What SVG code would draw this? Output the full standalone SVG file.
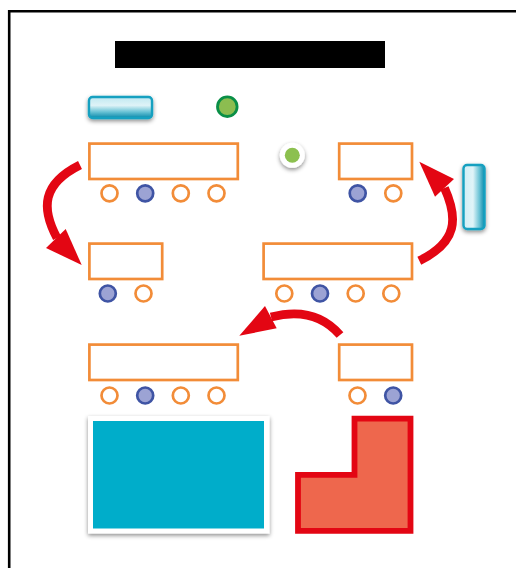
<svg xmlns="http://www.w3.org/2000/svg" width="516" height="568" viewBox="0 0 516 568">
<style>
.seat{fill:none;stroke:#f28c38;stroke-width:2.7}
.box{fill:#fff;stroke:#f28c38;stroke-width:2.7}
.taken{fill:#9ca3d4;stroke:#3f54a4;stroke-width:2.7}
.arc{fill:none;stroke:#e30613;stroke-width:8.8}
.head{fill:#e30613}
</style>
<defs>
<linearGradient id="gh" x1="0" y1="0" x2="0" y2="1"><stop offset="0" stop-color="#bfe8f1"/><stop offset=".4" stop-color="#dff3f7"/><stop offset=".7" stop-color="#6cc4d6"/><stop offset="1" stop-color="#0b89aa"/></linearGradient>
<linearGradient id="gv" x1="0" y1="0" x2="1" y2="0"><stop offset="0" stop-color="#cfeef5"/><stop offset=".45" stop-color="#e0f4f8"/><stop offset=".75" stop-color="#6cc4d6"/><stop offset="1" stop-color="#0b89aa"/></linearGradient>
<filter id="sh" x="-30%" y="-30%" width="160%" height="170%"><feDropShadow dx="0" dy="2" stdDeviation="2" flood-color="#000" flood-opacity=".45"/></filter>
</defs>
<rect width="516" height="568" fill="#fff"/>
<path id="frame" d="M9.2 568V11.2H516" fill="none" stroke="#000" stroke-width="2.6"/>
<rect id="title" x="115" y="41" width="270" height="27" fill="#000"/>
<g id="button-h"><rect x="89" y="97" width="63" height="21" rx="3.5" fill="url(#gh)" stroke="#14a0c0" stroke-width="2.4" filter="url(#sh)"/></g>
<g id="button-v"><rect x="463.5" y="165" width="21" height="64" rx="3.5" fill="url(#gv)" stroke="#14a0c0" stroke-width="2.4" filter="url(#sh)"/></g>
<g id="dot-green"><circle cx="227.3" cy="106.7" r="9.8" fill="#8cbd50" stroke="#0a8f47" stroke-width="2.8"/></g>
<g id="dot-white"><circle cx="292.3" cy="155.3" r="12.5" fill="#fff" filter="url(#sh)"/><circle cx="292.3" cy="155.3" r="7.5" fill="#8cc04f"/></g>
<g id="table-1"><rect class="box" x="89.4" y="143.6" width="148.4" height="35.4"/><circle class="seat" cx="109.5" cy="193.3" r="8"/><circle class="taken" cx="145.2" cy="193.3" r="8"/><circle class="seat" cx="180.8" cy="193.3" r="8"/><circle class="seat" cx="216.5" cy="193.3" r="8"/></g>
<g id="table-2"><rect class="box" x="339.2" y="143.6" width="72.8" height="35.4"/><circle class="taken" cx="357.7" cy="193.3" r="8"/><circle class="seat" cx="393.3" cy="193.3" r="8"/></g>
<g id="table-3"><rect class="box" x="89.4" y="243.6" width="72.8" height="35.4"/><circle class="taken" cx="107.8" cy="293.5" r="8"/><circle class="seat" cx="143.5" cy="293.5" r="8"/></g>
<g id="table-4"><rect class="box" x="263.6" y="243.6" width="148.4" height="35.4"/><circle class="seat" cx="284.3" cy="293.5" r="8"/><circle class="taken" cx="320" cy="293.5" r="8"/><circle class="seat" cx="355.7" cy="293.5" r="8"/><circle class="seat" cx="391.3" cy="293.5" r="8"/></g>
<g id="table-5"><rect class="box" x="89.4" y="344.6" width="148.4" height="35.4"/><circle class="seat" cx="109.5" cy="395.5" r="8"/><circle class="taken" cx="145.2" cy="395.5" r="8"/><circle class="seat" cx="180.8" cy="395.5" r="8"/><circle class="seat" cx="216.5" cy="395.5" r="8"/></g>
<g id="table-6"><rect class="box" x="339.2" y="344.6" width="72.8" height="35.4"/><circle class="seat" cx="357.5" cy="395.5" r="8"/><circle class="taken" cx="393.2" cy="395.5" r="8"/></g>
<g id="panel-blue"><rect x="88" y="416" width="181.5" height="117.5" fill="#fff" filter="url(#sh)"/><rect x="93" y="421" width="171" height="107.5" fill="#00adca"/></g>
<g id="zone-red"><path d="M354.5 418.7H410.5V530.8H298V474.8H354.5Z" fill="#ee674d" stroke="#e30613" stroke-width="5.8" stroke-linejoin="miter"/></g>
<g id="connectors">
<path class="arc" d="M80 165C42 184 41 208 57 238"/>
<path class="head" d="M81.7 265L46 248L65.7 229Z"/>
<path class="arc" d="M419.3 260.7C458 242 458 218 444.5 188"/>
<path class="head" d="M419.3 161.7L454 179L435 196.7Z"/>
<path class="arc" d="M340 335C322 314 298 310 271 317"/>
<path class="head" d="M239.3 335.7L265 306L276.7 328.3Z"/>
</g>
</svg>
